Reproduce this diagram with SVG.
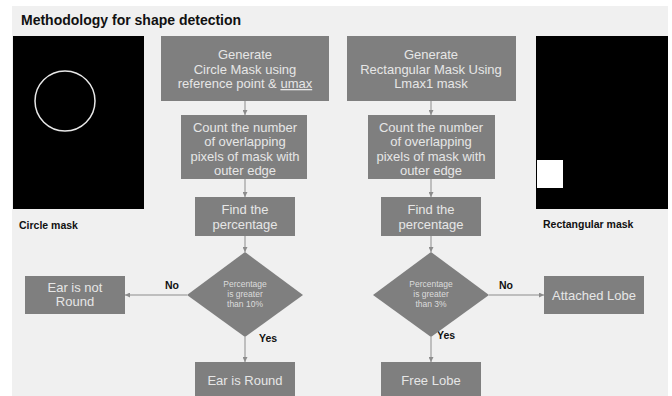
<svg xmlns="http://www.w3.org/2000/svg" width="672" height="396" viewBox="0 0 672 396">
<defs>
<style>
.box{fill:#7f7f7f;}
.bt{font-family:"Liberation Sans","Noto Sans",Arial,sans-serif;font-size:13px;fill:#e6e6e6;text-anchor:middle;}
.dt{font-family:"Liberation Sans","Noto Sans",Arial,sans-serif;font-size:8.5px;fill:#dcdcdc;text-anchor:middle;}
.lb{font-family:"Liberation Sans","Noto Sans",Arial,sans-serif;font-size:10.5px;font-weight:bold;fill:#111;}
.ln{stroke:#8c8c8c;stroke-width:1;fill:none;marker-end:url(#ah);}
</style>
<marker id="ah" viewBox="0 0 6 6" refX="6" refY="3" markerWidth="5" markerHeight="5" markerUnits="userSpaceOnUse" orient="auto">
<path d="M0,0 L6,3 L0,6 Z" fill="#8c8c8c"/>
</marker>
</defs>
<rect x="0" y="0" width="672" height="396" fill="#ffffff"/>
<rect x="12" y="6" width="656" height="390" fill="#f0f0f0"/>
<text x="21" y="25" font-family="Liberation Sans, Noto Sans, Arial, sans-serif" font-size="14" font-weight="bold" fill="#111">Methodology  for shape detection</text>

<g id="circle-mask-image">
<rect x="13" y="36" width="131" height="173" fill="#000"/>
<circle cx="65" cy="101" r="30" fill="none" stroke="#e8e8e8" stroke-width="1.5"/>
<text class="lb" x="19" y="229">Circle mask</text>
</g>
<g id="rect-mask-image">
<rect x="536" y="36" width="132" height="173" fill="#000"/>
<rect x="537" y="160" width="26" height="28" fill="#fff"/>
<text class="lb" x="543" y="228">Rectangular mask</text>
</g>

<g id="connectors">
<line class="ln" x1="245" y1="101" x2="245" y2="115"/>
<line class="ln" x1="245" y1="179" x2="245" y2="197"/>
<line class="ln" x1="245" y1="236" x2="245" y2="252"/>
<line class="ln" x1="187" y1="295" x2="125" y2="295"/>
<line class="ln" x1="245" y1="337" x2="245" y2="362"/>
<line class="ln" x1="431" y1="101" x2="431" y2="115"/>
<line class="ln" x1="431" y1="179" x2="431" y2="197"/>
<line class="ln" x1="431" y1="236" x2="431" y2="252"/>
<line class="ln" x1="489" y1="295" x2="544" y2="295"/>
<line class="ln" x1="431" y1="337" x2="431" y2="362"/>
<text class="lb" x="165" y="289">No</text>
<text class="lb" x="259" y="342">Yes</text>
<text class="lb" x="499" y="289">No</text>
<text class="lb" x="437" y="339">Yes</text>
</g>

<g id="gen-circle">
<rect class="box" x="161" y="36" width="168" height="65"/>
<text class="bt" x="245" y="58.5">Generate</text>
<text class="bt" x="245" y="73.5">Circle Mask using</text>
<text class="bt" x="245" y="88">reference point &amp; <tspan text-decoration="underline">umax</tspan></text>
</g>
<g id="count-left">
<rect class="box" x="181" y="115" width="126" height="64"/>
<text class="bt" x="245" y="131.5">Count the number</text>
<text class="bt" x="245" y="146">of overlapping</text>
<text class="bt" x="245" y="160.5">pixels of mask with</text>
<text class="bt" x="245" y="175">outer edge</text>
</g>
<g id="find-left">
<rect class="box" x="195" y="197" width="100" height="39"/>
<text class="bt" x="245" y="213.5">Find the</text>
<text class="bt" x="245" y="228.5">percentage</text>
</g>
<g id="decision-left">
<polygon class="box" points="245,252 303,295 245,337 187,295"/>
<text class="dt" x="245" y="287">Percentage</text>
<text class="dt" x="245" y="297">is greater</text>
<text class="dt" x="245" y="307">than 10%</text>
</g>
<g id="ear-not-round">
<rect class="box" x="25" y="276" width="100" height="38"/>
<text class="bt" x="75" y="291.5">Ear is not</text>
<text class="bt" x="75" y="305.5">Round</text>
</g>
<g id="ear-round">
<rect class="box" x="195" y="362" width="100" height="40"/>
<text class="bt" x="245" y="384.5">Ear is Round</text>
</g>

<g id="gen-rect">
<rect class="box" x="347" y="36" width="169" height="65"/>
<text class="bt" x="431" y="58.5">Generate</text>
<text class="bt" x="431" y="73.5">Rectangular Mask Using</text>
<text class="bt" x="431" y="88">Lmax1 mask</text>
</g>
<g id="count-right">
<rect class="box" x="368" y="115" width="127" height="64"/>
<text class="bt" x="431" y="131.5">Count the number</text>
<text class="bt" x="431" y="146">of overlapping</text>
<text class="bt" x="431" y="160.5">pixels of mask with</text>
<text class="bt" x="431" y="175">outer edge</text>
</g>
<g id="find-right">
<rect class="box" x="381" y="197" width="100" height="39"/>
<text class="bt" x="431" y="213.5">Find the</text>
<text class="bt" x="431" y="228.5">percentage</text>
</g>
<g id="decision-right">
<polygon class="box" points="431,252 489,295 431,337 373,295"/>
<text class="dt" x="431" y="287">Percentage</text>
<text class="dt" x="431" y="297">is greater</text>
<text class="dt" x="431" y="307">than 3%</text>
</g>
<g id="attached-lobe">
<rect class="box" x="544" y="276" width="100" height="38"/>
<text class="bt" x="594" y="299.5">Attached Lobe</text>
</g>
<g id="free-lobe">
<rect class="box" x="381" y="362" width="100" height="40"/>
<text class="bt" x="431" y="384.5">Free Lobe</text>
</g>
</svg>
